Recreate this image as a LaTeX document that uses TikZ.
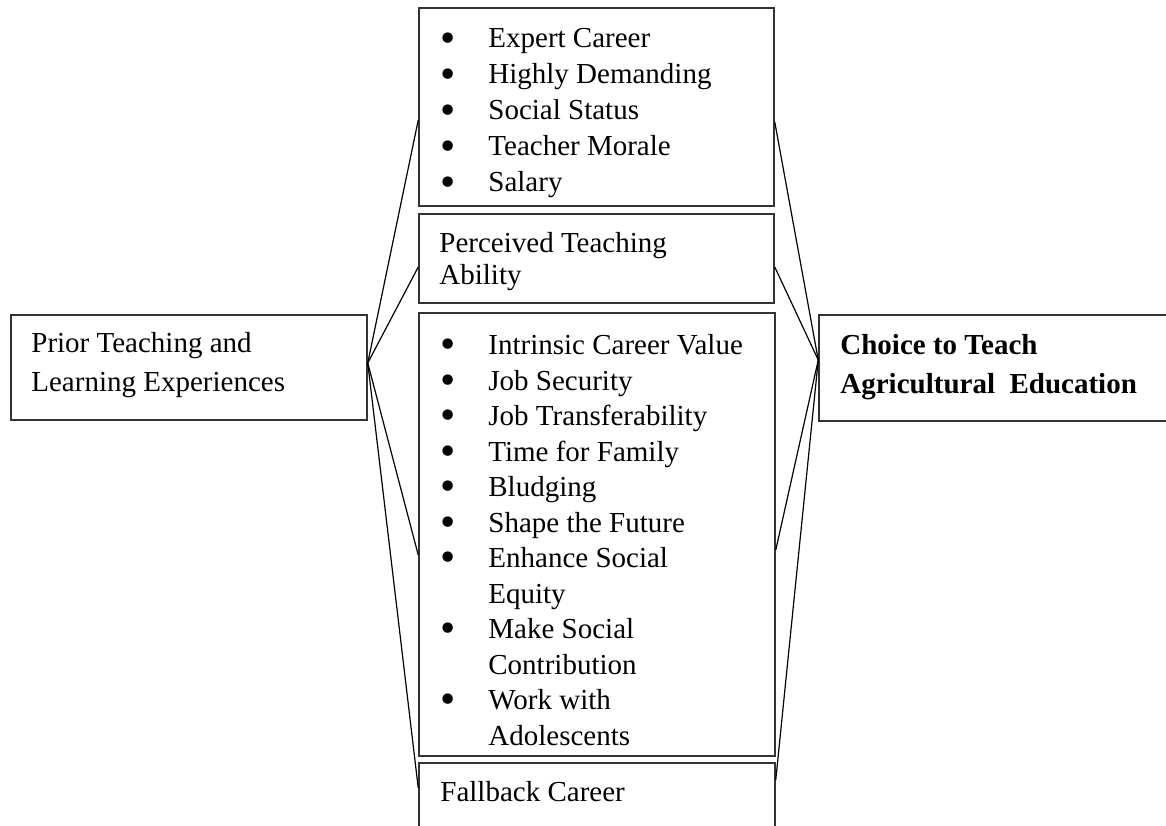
\documentclass[tikz,border=0pt]{standalone}
\usepackage{fontspec}
\usepackage{graphicx}
\setmainfont{Liberation Serif}
\usetikzlibrary{positioning}
\newcommand{\itm}{\makebox[24pt][l]{\smash{\raisebox{-2.2pt}{\scalebox{1.5}{\textbullet}}}}}
\newcommand{\cont}{\hspace*{24pt}}
\begin{document}
\begin{tikzpicture}[x=0.5pt, y=-0.5pt,
    panel/.style ={draw=black!80, line width=0.75pt, rectangle, inner sep=0pt},
    words/.style ={anchor=north west, inner sep=0pt, align=left, font=\fontsize{14.5pt}{18pt}\selectfont},
    link/.style ={line width=0.6pt}]
   \useasboundingbox (0,0) rectangle (1166,825);
   \clip (0,0) rectangle (1166,825);
   % boxes
   \node[panel, minimum width=178pt, minimum height=52.5pt] (prior)  at (189,367.5)  {};
   \node[panel, minimum width=177.5pt, minimum height=99pt] (expert)  at (596.5,107)  {};
   \node[panel, minimum width=177.5pt, minimum height=44.5pt] (ability)  at (596.5,258.5)  {};
   \node[panel, minimum width=178pt, minimum height=221.5pt] (values)  at (597,534.5)  {};
   \node[panel, minimum width=178pt, minimum height=50pt] (fallback)  at (597,813)  {};
   \node[panel, minimum width=190.5pt, minimum height=53pt] (choice)  at (1009.5,368)  {};
   % texts
   \node[words, font=\fontsize{14.5pt}{19.5pt}\selectfont] (priortext) at (31,332)
      {Prior Teaching and\\Learning Experiences};
   \node[words] (experttext) at (440,28)
      {\itm Expert Career\\\itm Highly Demanding\\\itm Social Status\\\itm Teacher Morale\\\itm Salary};
   \node[words, font=\fontsize{14.5pt}{16pt}\selectfont] (abilitytext) at (439,232)
      {Perceived Teaching\\Ability};
   \node[words, font=\fontsize{14.5pt}{17.75pt}\selectfont] (valuestext) at (440,334)
      {\itm Intrinsic Career Value\\\itm Job Security\\\itm Job Transferability\\\itm Time for Family\\
       \itm Bludging\\\itm Shape the Future\\\itm Enhance Social\\\cont Equity\\
       \itm Make Social\\\cont Contribution\\\itm Work with\\\cont Adolescents};
   \node[words] (fallbacktext) at (440,781) {Fallback Career};
   \node[words, font=\bfseries\fontsize{14.5pt}{19.5pt}\selectfont] (choicetext) at (840,334)
      {Choice to Teach\\Agricultural~ Education};
   % connectors
   \draw[link] ([yshift=2.25pt]prior.east) to ([yshift=-6.5pt]expert.west);
   \draw[link] ([yshift=2.25pt]prior.east) to ([yshift=-4.25pt]ability.west);
   \draw[link] ([yshift=2.25pt]prior.east) to ([yshift=-10.25pt]values.west);
   \draw[link] ([yshift=2.25pt]prior.east) to ([yshift=12.5pt]fallback.west);
   \draw[link] ([yshift=-7.5pt]expert.east) to ([yshift=4pt]choice.west);
   \draw[link] ([yshift=-4.25pt]ability.east) to ([yshift=4pt]choice.west);
   \draw[link] ([yshift=-7.75pt]values.east) to ([yshift=4pt]choice.west);
   \draw[link] ([yshift=16.5pt]fallback.east) to ([yshift=4pt]choice.west);
\end{tikzpicture}
\end{document}
